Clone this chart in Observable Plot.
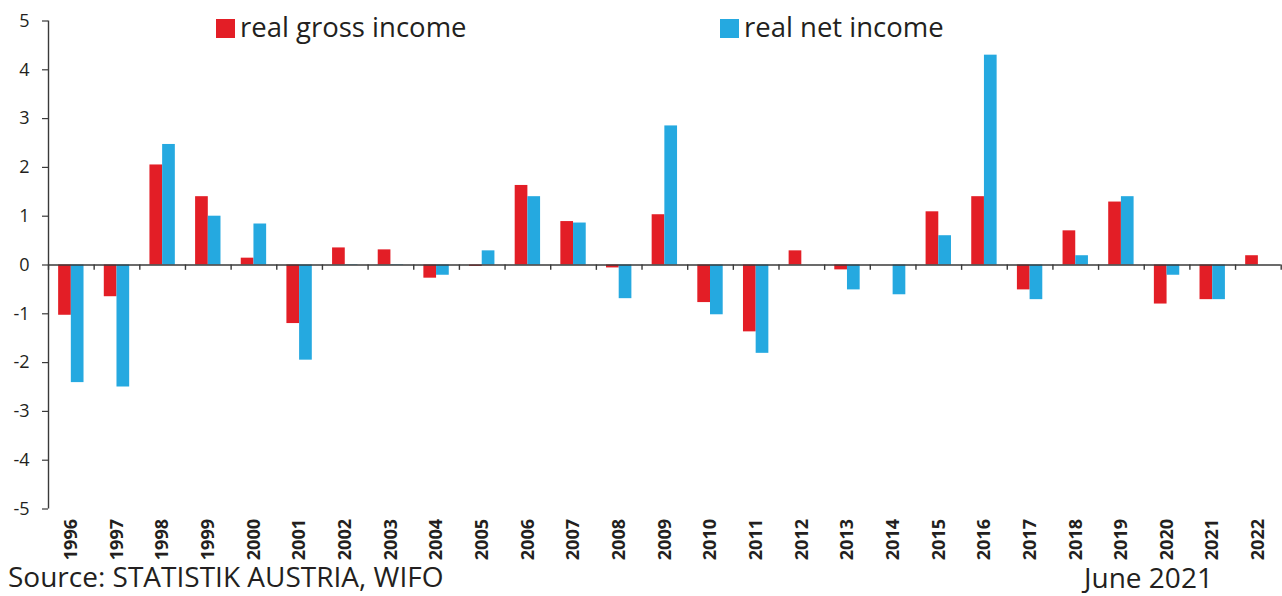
<!DOCTYPE html>
<html>
<head>
<meta charset="utf-8">
<script src="https://cdn.jsdelivr.net/npm/d3@7"></script>
<script src="https://cdn.jsdelivr.net/npm/@observablehq/plot@0.6"></script>
<style>
  html, body { margin: 0; padding: 0; background: #fff; }
  #wrap { position: relative; width: 1282px; height: 596px; overflow: hidden; font-family: "Open Sans", sans-serif; color: #231f20; }
  .lg { position: absolute; top: 7px; font-size: 27.5px; line-height: 40px; white-space: nowrap; }
  .sw { display: inline-block; width: 19px; height: 19px; vertical-align: -1px; margin-right: 5px; }
  .cap { position: absolute; font-size: 28px; line-height: 30px; white-space: nowrap; }
</style>
</head>
<body>
<div id="wrap">
  <div id="chart"></div>
  <div class="lg" style="left:216px"><span class="sw" style="background:#e31e26"></span>real gross income</div>
  <div class="lg" style="left:720px"><span class="sw" style="background:#25a9e0"></span>real net income</div>
  <div class="cap" style="left:8px; top:561px">Source: STATISTIK AUSTRIA, WIFO</div>
  <div class="cap" style="left:1084px; top:562px">June 2021</div>
</div>
<script>
const years = [1996,1997,1998,1999,2000,2001,2002,2003,2004,2005,2006,2007,2008,2009,2010,2011,2012,2013,2014,2015,2016,2017,2018,2019,2020,2021,2022];
const grossIncome = [-1.03,-0.65,2.05,1.40,0.14,-1.20,0.35,0.31,-0.27,-0.03,1.63,0.89,-0.06,1.03,-0.77,-1.37,0.29,-0.10,0.00,1.09,1.40,-0.51,0.70,1.29,-0.80,-0.71,0.19];
const netIncome = [-2.41,-2.50,2.47,1.00,0.84,-1.95,0.01,0.01,-0.21,0.29,1.40,0.86,-0.69,2.85,-1.02,-1.81,0.00,-0.51,-0.61,0.60,4.30,-0.71,0.19,1.40,-0.21,-0.71,null];
const yTicks = [-5,-4,-3,-2,-1,0,1,2,3,4,5];
const seriesNames = ["real gross income", "real net income"];
const colors = ["#e31e26", "#25a9e0"];

const half = 0.278; // each bar's share of a year band
const boundaries = d3.range(years.length + 1).map(i => years[0] - 0.5 + i);

const rows = [];
years.forEach((y, i) => {
  if (grossIncome[i] != null) rows.push({year: y, series: seriesNames[0], value: grossIncome[i], x1: y - half, x2: y});
  if (netIncome[i] != null) rows.push({year: y, series: seriesNames[1], value: netIncome[i], x1: y, x2: y + half});
});

const chart = Plot.plot({
  width: 1282,
  height: 596,
  marginLeft: 48,
  marginRight: 1.3,
  marginTop: 20.5,
  marginBottom: 87.5,
  style: {fontFamily: "Open Sans, sans-serif", color: "#231f20", background: "#fff"},
  x: {type: "linear", domain: [years[0] - 0.5, years[years.length - 1] + 0.5], axis: null},
  y: {type: "linear", domain: [-5, 5], axis: null},
  color: {domain: seriesNames, range: colors},
  marks: [
    Plot.rectY(rows, {x1: "x1", x2: "x2", y1: 0, y2: "value", fill: "series"}),
    Plot.ruleX([years[0] - 0.5], {y1: -5, y2: 5, stroke: "#3a3a3a", strokeWidth: 1.4}),
    Plot.ruleY([0], {stroke: "#3a3a3a", strokeWidth: 1.4}),
    Plot.ruleX(boundaries, {x: d => d, y1: 0, y2: -0.11, stroke: "#3a3a3a", strokeWidth: 1.4}),
    Plot.axisY(yTicks, {anchor: "left", tickSize: 6, tickPadding: 13, fontSize: 18, stroke: "#3a3a3a", strokeWidth: 1.2, fill: "#231f20", label: null, tickFormat: d => String(d)}),
    Plot.axisX(years, {anchor: "bottom", tickSize: 0, tickRotate: -90, tickPadding: 10, fontSize: 18, fontWeight: "bold", fill: "#231f20", tickFormat: d => String(d), label: null})
  ]
});
document.getElementById("chart").appendChild(chart);
</script>
</body>
</html>
